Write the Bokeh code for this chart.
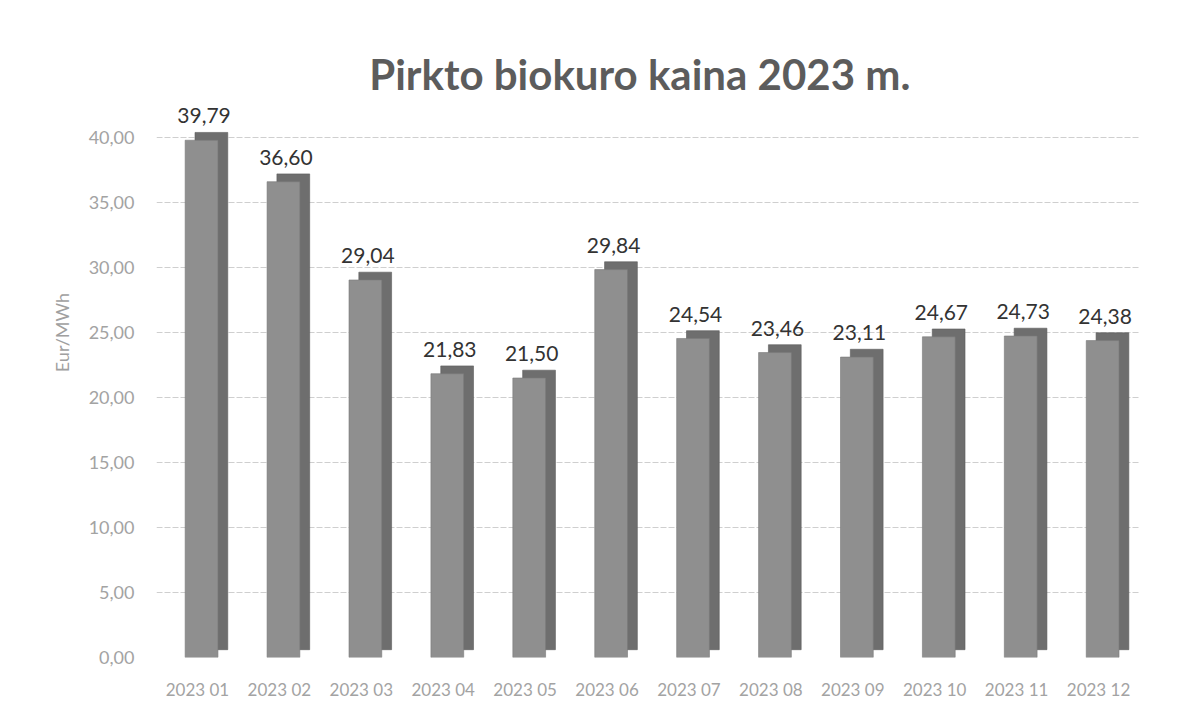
from bokeh.plotting import figure
from bokeh.models import ColumnDataSource, CustomJSTickFormatter, Label
from bokeh.transform import dodge
from bokeh.core.properties import value
from bokeh.embed import file_html
from bokeh.resources import INLINE

months = ["2023 01", "2023 02", "2023 03", "2023 04", "2023 05", "2023 06",
          "2023 07", "2023 08", "2023 09", "2023 10", "2023 11", "2023 12"]
prices = [39.79, 36.60, 29.04, 21.83, 21.50, 29.84,
          24.54, 23.46, 23.11, 24.67, 24.73, 24.38]
y_ticks = [0, 5, 10, 15, 20, 25, 30, 35, 40]
title_text = "Pirkto biokuro kaina 2023 m."

depth = 0.6
src = ColumnDataSource(dict(
    m=months,
    v=prices,
    vb=[v + depth for v in prices],
    lbl=[f"{v:.2f}".replace(".", ",") for v in prices],
))

p = figure(x_range=months, y_range=(0, 50), width=1168, height=703,
           output_backend="svg", toolbar_location=None,
           min_border_left=156, min_border_right=29, min_border_top=7,
           min_border_bottom=46)

# back (side/top) face
p.vbar(x=dodge("m", 0.17, range=p.x_range), bottom=depth, top="vb", width=0.4,
       source=src, fill_color="#6e6e6e", line_color="#5c5c5c", line_width=0.6)
# front face
p.vbar(x=dodge("m", 0.05, range=p.x_range), bottom=0, top="v", width=0.4,
       source=src, fill_color="#8f8f8f", line_color="#797979", line_width=0.6)

p.text(x=dodge("m", 0.08, range=p.x_range), y="vb", text="lbl", source=src,
       text_align="center", text_baseline="bottom", y_offset=-9,
       text_font=value("Lato"), text_font_size="21px", text_color="#333333")

p.add_layout(Label(x=5.9, y=44.9, text=title_text, text_align="center",
                   text_baseline="middle", text_font="Lato",
                   text_font_size="42px", text_font_style="bold",
                   text_color="#5c5c5c"))

p.yaxis.ticker = y_ticks
p.yaxis.formatter = CustomJSTickFormatter(code="return tick.toFixed(2).replace('.', ',');")
p.yaxis.axis_label = "Eur/MWh"
p.yaxis.axis_label_text_font = "Lato"
p.yaxis.axis_label_text_font_style = "normal"
p.yaxis.axis_label_text_font_size = "18px"
p.yaxis.axis_label_text_color = "#a0a0a0"
p.yaxis.axis_label_standoff = 13

for ax in (p.xaxis, p.yaxis):
    ax.axis_line_color = None
    ax.major_tick_line_color = None
    ax.minor_tick_line_color = None
    ax.major_label_text_font = "Lato"
    ax.major_label_text_color = "#a3a3a3"

p.yaxis.major_label_text_font_size = "18px"
p.xaxis.major_label_text_font_size = "17px"
p.yaxis.major_label_standoff = 16
p.xaxis.major_label_standoff = 15

p.xgrid.grid_line_color = None
p.ygrid.grid_line_color = "#cfcfcf"
p.ygrid.grid_line_dash = "6 2"
p.outline_line_color = None

open("out.html", "w").write(file_html(p, INLINE))
